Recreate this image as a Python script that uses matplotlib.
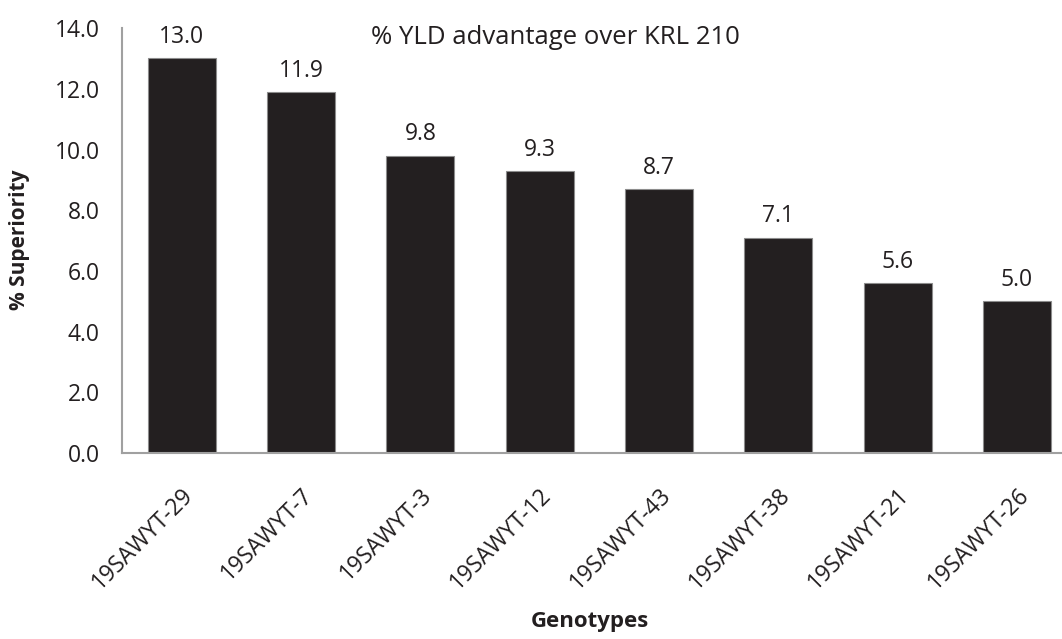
import matplotlib.pyplot as plt
import numpy as np

genotypes = ['19SAWYT-29', '19SAWYT-7', '19SAWYT-3', '19SAWYT-12',
             '19SAWYT-43', '19SAWYT-38', '19SAWYT-21', '19SAWYT-26']
superiority = [13.0, 11.9, 9.8, 9.3, 8.7, 7.1, 5.6, 5.0]
yticks = [0, 2, 4, 6, 8, 10, 12, 14]

plt.rcParams['font.family'] = ['Open Sans', 'DejaVu Sans']

fig = plt.figure(figsize=(10.62, 6.39), dpi=100)
ax = fig.add_axes([0.1149, 0.291, 0.885, 0.665])

x = np.arange(len(genotypes))
ax.bar(x, superiority, width=0.57, color='#231f20', edgecolor='#8c8c8c', linewidth=0.8)

for xi, v in zip(x, superiority):
    ax.text(xi, v + 0.3, '%.1f' % v, ha='center', va='bottom', fontsize=16.5, color='#231f20')

ax.set_xlim(-0.5, 7.376)
ax.set_ylim(0, 14)
ax.set_yticks(yticks)
ax.set_yticklabels(['%.1f' % t for t in yticks], fontsize=16.5, color='#231f20')
ax.set_xticks(x)
ax.set_xticklabels(genotypes, rotation=45, ha='right', rotation_mode='anchor',
                   fontsize=16.5, color='#231f20')
ax.tick_params(axis='y', length=0, pad=16)
ax.tick_params(axis='x', length=0, pad=22)

for side in ['top', 'right']:
    ax.spines[side].set_visible(False)
for side in ['left', 'bottom']:
    ax.spines[side].set_color('#a0a0a0')
    ax.spines[side].set_linewidth(1.5)

fig.text(555 / 1062, 1 - 38 / 639, '% YLD advantage over KRL 210', ha='center', va='center',
         fontsize=18.5, color='#231f20')
fig.text(20 / 1062, 1 - 240 / 639, '% Superiority', rotation=90, ha='center', va='center',
         fontsize=15, fontweight='bold', color='#231f20')
fig.text(590 / 1062, 1 - 622 / 639, 'Genotypes', ha='center', va='center',
         fontsize=16, fontweight='bold', color='#231f20')

fig.savefig('out.png', dpi=100)
